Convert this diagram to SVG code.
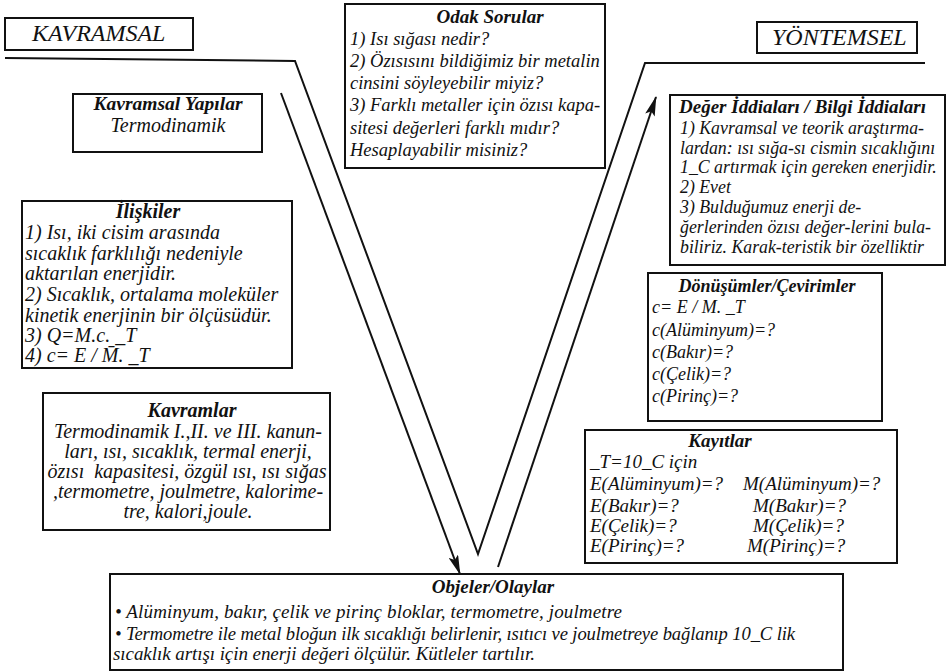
<svg xmlns="http://www.w3.org/2000/svg" width="946" height="672" viewBox="0 0 946 672">
<style>
.b{fill:#fff;stroke:#111;stroke-width:2}
.t{font-family:"Liberation Serif","Times New Roman",serif;font-style:italic;fill:#111;white-space:pre}
.h{font-weight:bold}
.c{text-anchor:middle}
.ln{fill:none;stroke:#111;stroke-width:2}
</style>
<defs>
<marker id="ah" markerUnits="userSpaceOnUse" markerWidth="20" markerHeight="10" refX="19" refY="5" orient="auto">
<path d="M0,0 L20,5 L0,10 L4,5 z" fill="#111"/>
</marker>
</defs>
<rect width="946" height="672" fill="#fff"/>
<g id="connectors">
<path class="ln" d="M5,58 L295,61 L478,554 L645,63 L925,63"/>
<line class="ln" x1="281" y1="93" x2="460" y2="574" marker-end="url(#ah)"/>
<line class="ln" x1="498" y1="567" x2="656" y2="97" marker-end="url(#ah)"/>
</g>
<g id="kavramsal">
<rect class="b" x="5" y="18" width="188" height="32"/>
<text class="t" x="32" y="41" font-size="24">KAVRAMSAL</text>
</g>
<g id="yontemsel">
<rect class="b" x="757" y="22" width="160" height="31"/>
<text class="t" x="772" y="45" font-size="24">YÖNTEMSEL</text>
</g>
<g id="kavramsal-yapilar">
<rect class="b" x="73" y="94" width="189" height="58"/>
<text class="t h c" x="168" y="110" font-size="19.5">Kavramsal Yapılar</text>
<text class="t c" x="168" y="132" font-size="20">Termodinamik</text>
</g>
<g id="odak-sorular">
<rect class="b" x="345" y="4" width="260" height="164"/>
<text class="t h c" x="490" y="23" font-size="19">Odak Sorular</text>
<text class="t" font-size="18.5"><tspan x="350" y="45">1) Isı sığası nedir?</tspan><tspan x="350" y="67">2) Özısısını bildiğimiz bir metalin</tspan><tspan x="350" y="89">cinsini söyleyebilir miyiz?</tspan><tspan x="350" y="111">3) Farklı metaller için özısı kapa-</tspan><tspan x="350" y="134">sitesi değerleri farklı mıdır?</tspan><tspan x="350" y="156">Hesaplayabilir misiniz?</tspan></text>
</g>
<g id="iliskiler">
<rect class="b" x="22" y="201" width="270" height="167"/>
<text class="t h c" x="148" y="218" font-size="20">İlişkiler</text>
<text class="t" font-size="20"><tspan x="25" y="239">1) Isı, iki cisim arasında</tspan><tspan x="25" y="260">sıcaklık farklılığı nedeniyle</tspan><tspan x="25" y="280">aktarılan enerjidir.</tspan><tspan x="25" y="301">2) Sıcaklık, ortalama moleküler</tspan><tspan x="25" y="322">kinetik enerjinin bir ölçüsüdür.</tspan><tspan x="25" y="342">3) Q=M.c. _T</tspan><tspan x="25" y="362">4) c= E / M̄. _T</tspan></text>
</g>
<g id="kavramlar">
<rect class="b" x="43" y="393" width="287" height="137"/>
<text class="t h c" x="192" y="417" font-size="20">Kavramlar</text>
<text class="t c" font-size="20"><tspan x="188" y="438">Termodinamik I.,II. ve III. kanun-</tspan><tspan x="188" y="458">ları, ısı, sıcaklık, termal enerji,</tspan><tspan x="187" y="478">özısı  kapasitesi, özgül ısı, ısı sığas</tspan><tspan x="188" y="498">,termometre, joulmetre, kalorime-</tspan><tspan x="188" y="518">tre, kalori,joule.</tspan></text>
</g>
<g id="deger-iddialari">
<rect class="b" x="670" y="95" width="275" height="170"/>
<text class="t h" x="679" y="113" font-size="19">Değer İddiaları / Bilgi İddiaları</text>
<text class="t" font-size="17.8"><tspan x="680" y="134">1) Kavramsal ve teorik araştırma-</tspan><tspan x="680" y="154">lardan: ısı sığa-sı cismin sıcaklığını</tspan><tspan x="680" y="173">1_C artırmak için gereken enerjidir.</tspan><tspan x="680" y="193">2) Evet</tspan><tspan x="680" y="213">3) Bulduğumuz enerji de-</tspan><tspan x="680" y="233">ğerlerinden özısı değer-lerini bula-</tspan><tspan x="680" y="253">biliriz. Karak-teristik bir özelliktir</tspan></text>
</g>
<g id="donusumler">
<rect class="b" x="648" y="273" width="234" height="148"/>
<text class="t h c" x="767" y="292" font-size="18">Dönüşümler/Çevirimler</text>
<text class="t" font-size="18"><tspan x="652" y="313">c= E / M. _T</tspan><tspan x="652" y="336">c(Alüminyum)=?</tspan><tspan x="652" y="358">c(Bakır)=?</tspan><tspan x="652" y="380">c(Çelik)=?</tspan><tspan x="652" y="402">c(Pirinç)=?</tspan></text>
</g>
<g id="kayitlar">
<rect class="b" x="585" y="430" width="312" height="133"/>
<text class="t h c" x="720" y="447" font-size="19">Kayıtlar</text>
<text class="t" font-size="19"><tspan x="590" y="468">_T=10_C için</tspan><tspan x="590" y="490">E(Alüminyum)=?</tspan><tspan x="590" y="512">E(Bakır)=?</tspan><tspan x="590" y="532">E(Çelik)=?</tspan><tspan x="590" y="552">E(Pirinç)=?</tspan></text>
<text class="t" font-size="19"><tspan x="743" y="490">M(Alüminyum)=?</tspan><tspan x="753" y="512">M(Bakır)=?</tspan><tspan x="753" y="532">M(Çelik)=?</tspan><tspan x="747" y="552">M(Pirinç)=?</tspan></text>
</g>
<g id="objeler">
<rect class="b" x="110" y="574" width="733" height="96"/>
<text class="t h c" x="493" y="593" font-size="19">Objeler/Olaylar</text>
<text class="t" x="115" y="618" font-size="19" textLength="507">• Alüminyum, bakır, çelik ve pirinç bloklar, termometre, joulmetre</text>
<text class="t" x="115" y="640" font-size="18.6" textLength="680">• Termometre ile metal bloğun ilk sıcaklığı belirlenir, ısıtıcı ve joulmetreye bağlanıp 10_C lik</text>
<text class="t" x="113" y="660" font-size="19" textLength="422">sıcaklık artışı için enerji değeri ölçülür. Kütleler tartılır.</text>
</g>
</svg>
